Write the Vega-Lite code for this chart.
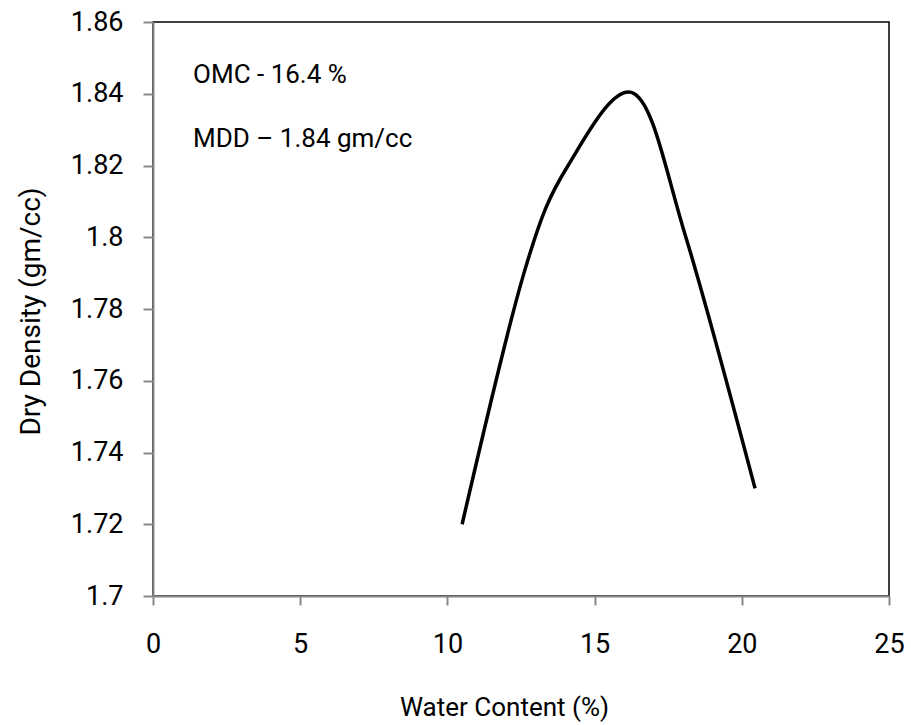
{
  "$schema": "https://vega.github.io/schema/vega-lite/v6.json",
  "width": 736,
  "height": 574,
  "autosize": {"type": "none"},
  "padding": {"left": 153, "top": 22, "right": 22, "bottom": 129},
  "background": "white",
  "config": {
    "view": {"stroke": "#000000", "strokeWidth": 1.5},
    "font": "Roboto"
  },
  "datasets": {
    "curve": [
      {"w": 10.5, "d": 1.72},
      {"w": 12.6, "d": 1.79},
      {"w": 14.1, "d": 1.82},
      {"w": 16.35, "d": 1.84},
      {"w": 18.1, "d": 1.80},
      {"w": 20.45, "d": 1.73}
    ],
    "notes": [
      {"w": 1.36, "d": 1.843, "label": "OMC - 16.4 %"},
      {"w": 1.36, "d": 1.8252, "label": "MDD – 1.84 gm/cc"}
    ]
  },
  "layer": [
    {
      "data": {"name": "curve"},
      "mark": {"type": "line", "interpolate": "cardinal", "color": "#000000", "strokeWidth": 3.5},
      "encoding": {
        "x": {
          "field": "w", "type": "quantitative",
          "scale": {"domain": [0, 25], "nice": false, "zero": false},
          "axis": {
            "title": "Water Content (%)",
            "values": [0, 5, 10, 15, 20, 25],
            "grid": false,
            "domainColor": "#888888", "domainWidth": 2,
            "tickColor": "#888888", "tickWidth": 2, "tickSize": 9,
            "labelFont": "Roboto", "labelFontSize": 27, "labelColor": "#000000",
            "labelPadding": 26, "labelFlush": false,
            "titleFont": "Roboto", "titleFontSize": 26, "titleFontWeight": "normal", "titleColor": "#000000",
            "titleX": 351, "titleY": 119, "titleAlign": "center", "titleBaseline": "alphabetic", "titleAnchor": null
          }
        },
        "y": {
          "field": "d", "type": "quantitative",
          "scale": {"domain": [1.7, 1.86], "nice": false, "zero": false},
          "axis": {
            "title": "Dry Density (gm/cc)",
            "values": [1.7, 1.72, 1.74, 1.76, 1.78, 1.8, 1.82, 1.84, 1.86],
            "format": "~g",
            "grid": false,
            "domainColor": "#888888", "domainWidth": 2,
            "tickColor": "#888888", "tickWidth": 2, "tickSize": 10,
            "labelFont": "Roboto", "labelFontSize": 27, "labelColor": "#000000",
            "labelPadding": 20, "labelFlush": false,
            "titleFont": "Roboto", "titleFontSize": 28, "titleFontWeight": "normal", "titleColor": "#000000",
            "titleX": -114, "titleY": 289, "titleAngle": -90, "titleAlign": "center", "titleBaseline": "alphabetic", "titleAnchor": null
          }
        }
      }
    },
    {
      "data": {"name": "notes"},
      "mark": {"type": "text", "align": "left", "baseline": "alphabetic", "font": "Roboto", "fontSize": 26, "color": "#000000"},
      "encoding": {
        "x": {"field": "w", "type": "quantitative"},
        "y": {"field": "d", "type": "quantitative"},
        "text": {"field": "label"}
      }
    }
  ]
}
